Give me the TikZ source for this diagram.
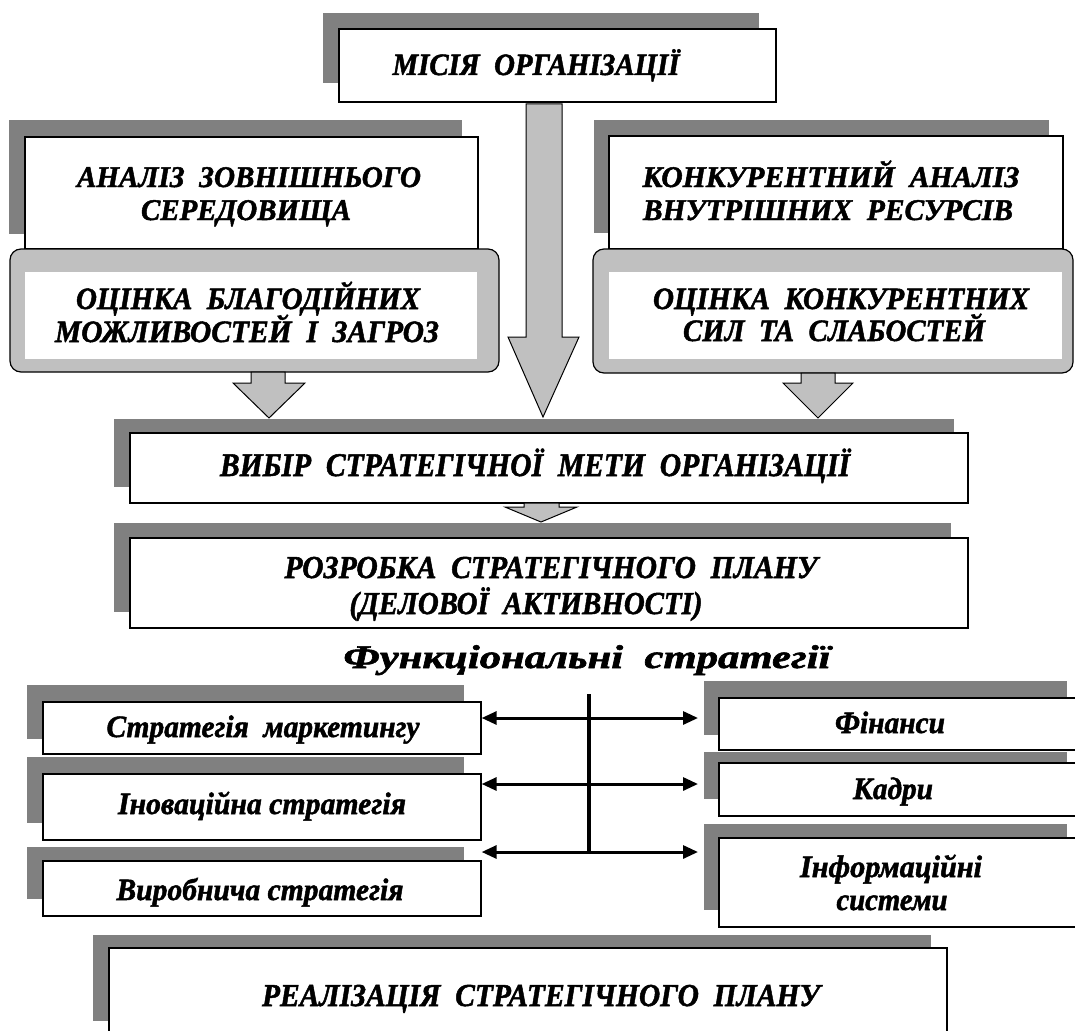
\documentclass[tikz,border=0pt]{standalone}
\usepackage{fontspec}
\setmainfont{Liberation Serif}[BoldItalicFeatures={FakeBold=1.6}]
\usepackage{graphicx}
\usetikzlibrary{fit,arrows.meta}
\definecolor{shd}{HTML}{808080}
\definecolor{lg}{HTML}{C0C0C0}
\newcommand\ftxt[3]{\resizebox{#1pt}{\height}{\fontsize{#2pt}{#2pt}\selectfont\bfseries\itshape #3}}
\begin{document}
\begin{tikzpicture}[x=1pt,y=-1pt,
 shadowbox/.style={fill=shd,draw=none,inner sep=0pt,outer sep=0pt},
 whitebox/.style={fill=white,draw=black,line width=1.3pt,inner sep=0pt},
 roundbox/.style={fill=lg,draw=black,line width=1.2pt,rounded corners=11pt,inner sep=0pt},
 innerbox/.style={fill=white,draw=none,inner sep=0pt},
 txt/.style={anchor=base,inner sep=0pt,outer sep=0pt},
 blockarrow/.style={fill=lg,draw=black,line width=1pt,line join=miter},
 bus/.style={line width=3.6pt},
 link/.style={line width=3pt,{Triangle[length=15pt,width=13pt]}-{Triangle[length=15pt,width=13pt]}}
]
\useasboundingbox[fill=white] (0,0) rectangle (1075,1030);

% mission
\node[shadowbox,fit={(323,13) (759,83)}] (mis-s) {};
\node[whitebox,fit={(339,29) (776,102)}] (mis) {};
\node[txt] (mis-t) at (536,75) {\ftxt{287}{31}{МІСІЯ\ \ ОРГАНІЗАЦІЇ}};

% left top
\node[shadowbox,fit={(9,120) (462,234)}] (ext-s) {};
\node[whitebox,fit={(25,137) (478,249)}] (ext) {};
\node[roundbox,fit={(10,249) (499,372)}] (opp) {};
\node[innerbox,fit={(25,272) (477,359)}] (opp-i) {};
\node[txt] (ext-t1) at (249,187) {\ftxt{344}{30}{АНАЛІЗ\ \ ЗОВНІШНЬОГО}};
\node[txt] (ext-t2) at (246,220) {\ftxt{210}{30}{СЕРЕДОВИЩА}};
\node[txt] (opp-t1) at (248,309) {\ftxt{344}{31}{ОЦІНКА\ \ БЛАГОДІЙНИХ}};
\node[txt] (opp-t2) at (247,342) {\ftxt{384}{31}{МОЖЛИВОСТЕЙ\ \ І\ \ ЗАГРОЗ}};

% right top
\node[shadowbox,fit={(594,120) (1049,233)}] (int-s) {};
\node[whitebox,fit={(609,136) (1063,249)}] (int) {};
\node[roundbox,fit={(593,249) (1073,373)}] (str) {};
\node[innerbox,fit={(609,272) (1062,359)}] (str-i) {};
\node[txt] (int-t1) at (831,187) {\ftxt{377}{30}{КОНКУРЕНТНИЙ\ \ АНАЛІЗ}};
\node[txt] (int-t2) at (828,220) {\ftxt{370}{30}{ВНУТРІШНИХ\ \ РЕСУРСІВ}};
\node[txt] (str-t1) at (841,309) {\ftxt{376}{31}{ОЦІНКА\ \ КОНКУРЕНТНИХ}};
\node[txt] (str-t2) at (834,341) {\ftxt{302}{31}{СИЛ\ \ ТА\ \ СЛАБОСТЕЙ}};

% goal
\node[shadowbox,fit={(114,419) (954,487)}] (goal-s) {};
\node[whitebox,fit={(130,433) (968,503)}] (goal) {};
\node[txt] (goal-t) at (535,476) {\ftxt{630}{33}{ВИБІР\ \ СТРАТЕГІЧНОЇ\ \ МЕТИ\ \ ОРГАНІЗАЦІЇ}};

% plan
\node[shadowbox,fit={(114,523) (951,612)}] (plan-s) {};
\node[whitebox,fit={(130,538) (968,628)}] (plan) {};
\node[txt] (plan-t1) at (551,578) {\ftxt{533}{32}{РОЗРОБКА\ \ СТРАТЕГІЧНОГО\ \ ПЛАНУ}};
\node[txt] (plan-t2) at (526,614) {\ftxt{353}{32}{(ДЕЛОВОЇ\ \ АКТИВНОСТІ)}};

% block arrows
\draw[blockarrow] (526,104) -- (562,104) -- (562,337) -- (579,337) -- (543,417) -- (508,337) -- (526,337) -- cycle;
\draw[blockarrow] (251,372) -- (285,372) -- (285,383) -- (305,383) -- (269,418) -- (233,383) -- (251,383) -- cycle;
\draw[blockarrow] (801,373) -- (835,373) -- (835,383) -- (853,383) -- (818,418) -- (783,383) -- (801,383) -- cycle;
\draw[blockarrow] (524,503) -- (559,503) -- (559,507) -- (577,507) -- (541,522) -- (505,507) -- (524,507) -- cycle;

% title
\node[txt] (func-t) at (587,668) {\ftxt{487}{33}{Функціональні\ \ стратегії}};

% bottom left
\node[shadowbox,fit={(27,685) (464,739)}] (mk-s) {};
\node[whitebox,fit={(43,702) (481,754)}] (mk) {};
\node[shadowbox,fit={(27,757) (464,823)}] (inn-s) {};
\node[whitebox,fit={(43,774) (481,840)}] (inn) {};
\node[shadowbox,fit={(27,847) (464,899)}] (vyr-s) {};
\node[whitebox,fit={(43,861) (481,916)}] (vyr) {};
\node[txt] (mk-t) at (263,737) {\ftxt{313}{31}{Стратегія\ \ маркетингу}};
\node[txt] (inn-t) at (262,814) {\ftxt{288}{31}{Іноваційна стратегія}};
\node[txt] (vyr-t) at (260,900) {\ftxt{287}{31}{Виробнича стратегія}};

% bottom right
\node[shadowbox,fit={(704,681) (1067,735)}] (fin-s) {};
\node[whitebox,fit={(719,698) (1085,750)}] (fin) {};
\node[shadowbox,fit={(704,752) (1067,799)}] (kad-s) {};
\node[whitebox,fit={(719,763) (1085,816)}] (kad) {};
\node[shadowbox,fit={(704,824) (1067,910)}] (inf-s) {};
\node[whitebox,fit={(719,838) (1085,927)}] (inf) {};
\node[txt] (fin-t) at (890,733) {\ftxt{110}{31}{Фінанси}};
\node[txt] (kad-t) at (893,799) {\ftxt{80}{31}{Кадри}};
\node[txt] (inf-t1) at (891,877) {\ftxt{182}{31}{Інформаційні}};
\node[txt] (inf-t2) at (892,910) {\ftxt{111}{31}{системи}};

% realization
\node[shadowbox,fit={(93,935) (931,1021)}] (real-s) {};
\node[whitebox,fit={(109,948) (947,1040)}] (real) {};
\node[txt] (real-t) at (541,1006) {\ftxt{558}{32}{РЕАЛІЗАЦІЯ\ \ СТРАТЕГІЧНОГО\ \ ПЛАНУ}};

% connectors
\coordinate (b1) at (589,694);
\coordinate (b2) at (589,853);
\coordinate (r1) at (698,718);
\coordinate (r2) at (698,784);
\coordinate (r3) at (698,852);
\draw[bus] (b1) -- (b2);
\draw[link] (mk.east |- r1) -- (r1);
\draw[link] (inn.east |- r2) -- (r2);
\draw[link] (vyr.east |- r3) -- (r3);
\end{tikzpicture}
\end{document}
